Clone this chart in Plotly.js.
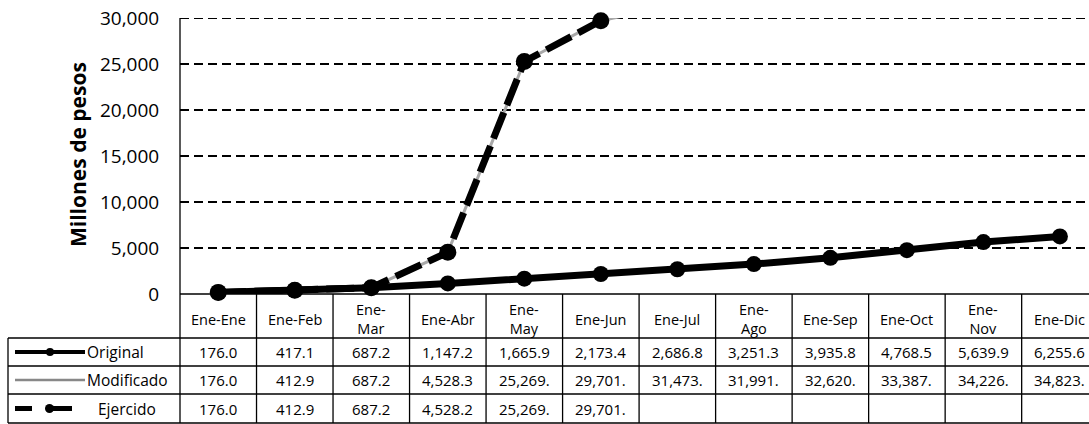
<!DOCTYPE html>
<html>
<head>
<meta charset="utf-8">
<script src="https://cdn.plot.ly/plotly-3.0.1.min.js"></script>
<style>html,body{margin:0;padding:0;background:#fff;}#chart{width:1089px;height:424px;}</style>
</head>
<body>
<div id="chart"></div>
<script>
// ---- data ----
const categories = ['Ene-Ene','Ene-Feb','Ene-Mar','Ene-Abr','Ene-May','Ene-Jun','Ene-Jul','Ene-Ago','Ene-Sep','Ene-Oct','Ene-Nov','Ene-Dic'];
const headerLabels = ['Ene-Ene','Ene-Feb','Ene-<br>Mar','Ene-Abr','Ene-<br>May','Ene-Jun','Ene-Jul','Ene-<br>Ago','Ene-Sep','Ene-Oct','Ene-<br>Nov','Ene-Dic'];
const original   = [176.0, 417.1, 687.2, 1147.2, 1665.9, 2173.4, 2686.8, 3251.3, 3935.8, 4768.5, 5639.9, 6255.6];
const modificado = [176.0, 412.9, 687.2, 4528.3, 25269.0, 29701.0, 31473.0, 31991.0, 32620.0, 33387.0, 34226.0, 34823.0];
const ejercido   = [176.0, 412.9, 687.2, 4528.2, 25269.0, 29701.0, null, null, null, null, null, null];
const seriesNames = ['Original','Modificado','Ejercido'];
const yTicks = [0, 5000, 10000, 15000, 20000, 25000, 30000];

// ---- geometry helpers (pixel -> paper) ----
const L = 180, T = 18, PW = 909, PH = 276;
const px = X => (X - L) / PW;
const py = Y => (T + PH - Y) / PH;

const FONT = 'Open Sans, sans-serif';

function fmt(v) {
  if (v === null || v === undefined) return '';
  let s = v.toLocaleString('en-US', {minimumFractionDigits: 1, maximumFractionDigits: 1});
  return s.length > 7 ? s.slice(0, 7) : s;
}

const traces = [
  {x: categories, y: modificado, name: 'Modificado', mode: 'lines+markers',
   line: {color: '#a8a8a8', width: 3}, marker: {size: 4, color: '#a8a8a8'}, cliponaxis: true},
  {x: categories, y: ejercido, name: 'Ejercido', mode: 'lines+markers',
   line: {color: '#000', width: 7, dash: '28px,8px'}, marker: {size: 17, color: '#000'}, cliponaxis: false},
  {x: categories, y: original, name: 'Original', mode: 'lines+markers',
   line: {color: '#000', width: 7}, marker: {size: 16, color: '#000'}, cliponaxis: false}
];

const rowY = [352, 380, 408.5];
const rowTop = [338, 366, 394, 423];
const shapes = [];
const lineStyle = {color: '#000', width: 1.3};
// top gridline (the axis omits the gridline at the range edge)
const yMax = yTicks[yTicks.length - 1];
shapes.push({type: 'line', xref: 'paper', yref: 'y', x0: 0, x1: 1, y0: yMax, y1: yMax, layer: 'below',
  line: {color: '#000', width: 2, dash: '9px,5px'}});
// zero line / header top
shapes.push({type: 'line', xref: 'paper', yref: 'paper', x0: 0, x1: 1, y0: 0, y1: 0, line: lineStyle});
// row horizontal lines across legend column and body
rowTop.forEach(Y => shapes.push({type: 'line', xref: 'paper', yref: 'paper', x0: px(8), x1: 1, y0: py(Y), y1: py(Y), line: lineStyle}));
// legend column left border
shapes.push({type: 'line', xref: 'paper', yref: 'paper', x0: px(8), x1: px(8), y0: py(338), y1: py(423), line: lineStyle});
// y-axis line extended through table
shapes.push({type: 'line', xref: 'paper', yref: 'paper', x0: 0, x1: 0, y0: py(T), y1: py(423), line: lineStyle});
// column separators
for (let k = 1; k < categories.length; k++) {
  shapes.push({type: 'line', xref: 'x', yref: 'paper', x0: k - 0.5, x1: k - 0.5, y0: 0, y1: py(423), line: lineStyle});
}
// legend icons
shapes.push({type: 'line', xref: 'paper', yref: 'paper', x0: px(15), x1: px(85), y0: py(rowY[0]), y1: py(rowY[0]), line: {color: '#000', width: 4}});
shapes.push({type: 'circle', xref: 'paper', yref: 'paper', x0: px(46), x1: px(54), y0: py(rowY[0] + 4), y1: py(rowY[0] - 4), fillcolor: '#000', line: {width: 0}});
shapes.push({type: 'line', xref: 'paper', yref: 'paper', x0: px(15), x1: px(85), y0: py(rowY[1]), y1: py(rowY[1]), line: {color: '#888', width: 2.5}});
shapes.push({type: 'line', xref: 'paper', yref: 'paper', x0: px(15), x1: px(32), y0: py(rowY[2]), y1: py(rowY[2]), line: {color: '#000', width: 5}});
shapes.push({type: 'line', xref: 'paper', yref: 'paper', x0: px(47), x1: px(72), y0: py(rowY[2]), y1: py(rowY[2]), line: {color: '#000', width: 5}});
shapes.push({type: 'circle', xref: 'paper', yref: 'paper', x0: px(45), x1: px(54), y0: py(rowY[2] + 4.5), y1: py(rowY[2] - 4.5), fillcolor: '#000', line: {width: 0}});

const annotations = [];
// y-axis title
annotations.push({text: '<b>Millones de pesos</b>', xref: 'paper', yref: 'paper', x: px(78), y: py(155),
  xanchor: 'center', yanchor: 'middle', textangle: -90, showarrow: false, font: {family: FONT, size: 21, color: '#000'}});
// header labels
categories.forEach((c, i) => annotations.push({text: headerLabels[i], xref: 'x', yref: 'paper', x: c, y: py(319),
  xanchor: 'center', yanchor: 'middle', showarrow: false, font: {family: FONT, size: 14.5, color: '#000'}}));
// table values
const allSeries = [original, modificado, ejercido];
allSeries.forEach((arr, r) => arr.forEach((v, i) => annotations.push({text: fmt(v), xref: 'x', yref: 'paper', x: categories[i], y: py(rowY[r]),
  xanchor: 'center', yanchor: 'middle', showarrow: false, font: {family: FONT, size: 15, color: '#000'}})));
// legend labels
const legendX = [85, 85, 96];
seriesNames.forEach((n, r) => annotations.push({text: n, xref: 'paper', yref: 'paper', x: px(legendX[r]), y: py(rowY[r]),
  xanchor: 'left', yanchor: 'middle', showarrow: false, font: {family: FONT, size: 15.5, color: '#000'}}));

const layout = {
  width: 1089, height: 424,
  margin: {l: L, r: 1089 - L - PW, t: T, b: 424 - T - PH, pad: 0},
  paper_bgcolor: '#fff', plot_bgcolor: '#fff',
  showlegend: false,
  font: {family: FONT, color: '#000'},
  xaxis: {type: 'category', range: [-0.5, 11.38], showticklabels: false, showgrid: false, zeroline: false, showline: false, fixedrange: true},
  yaxis: {range: [0, 30000], tickvals: yTicks, tickformat: ',', showgrid: true, gridcolor: '#000', gridwidth: 1.2,
    griddash: '9px,5px', zeroline: false, showline: false, ticks: 'outside', ticklen: 0, ticklabelstandoff: 16,
    tickfont: {family: FONT, size: 19, color: '#000'}, fixedrange: true},
  shapes: shapes,
  annotations: annotations
};

Plotly.newPlot('chart', traces, layout, {displayModeBar: false, staticPlot: true});
</script>
</body>
</html>
